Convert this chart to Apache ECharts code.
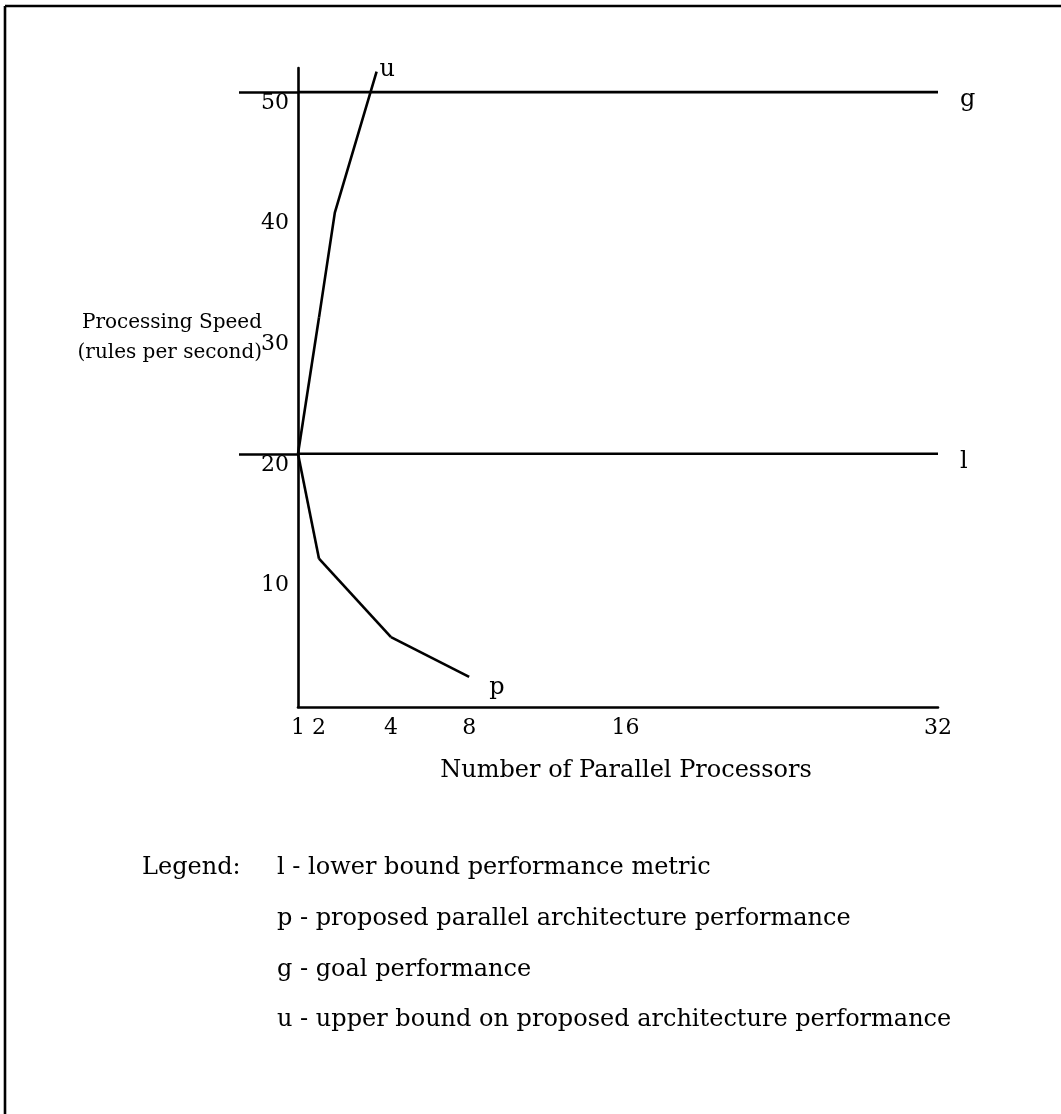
<!DOCTYPE html>
<html><head><meta charset="utf-8">
<script src="https://cdn.jsdelivr.net/npm/echarts@6/dist/echarts.min.js"></script>
<style>html,body{margin:0;padding:0;background:#fff}#c{width:1061px;height:1114px}</style>
</head><body><div id="c"></div>
<script>
// ---------------- data ----------------
const processors = [1, 2, 4, 8, 16, 32];            // x tick values: number of parallel processors
const speedTicks = [10, 20, 30, 40, 50];            // y tick labels: rules per second
const lowerBound = 20;                              // l - lower bound performance metric
const goal = 50;                                    // g - goal performance
const pProcessors = [1, 2, 4, 8];                   // p - proposed parallel architecture performance
const pSpeed = [20, 11.3, 4.8, 1.5];
const uProcessors = [1, 2, 2.44, 3.6];              // u - upper bound on proposed architecture performance
const uSpeed = [20, 31.3, 40, 51.7];
const legendTitle = 'Legend:';
const legendLines = [
  'l - lower bound performance metric',
  'p - proposed parallel architecture performance',
  'g - goal performance',
  'u - upper bound on proposed architecture performance'
];
const yTitle = ['Processing Speed', '(rules per second)'];
const xTitle = 'Number of Parallel Processors';

// ---------------- layout / style ----------------
const SERIF = '"DejaVu Serif", serif';
const INK = '#000';
const LW = 2.6;
const plot = { left: 298, top: 68, right: 938, bottom: 707 };
const yMin = -1, yMax = 52;
// the hand-drawn x axis is piecewise linear: break values and their pixel positions
const xBreaks = [1, 2, 4, 32];
const xBreakPx = [298, 319, 391, 938];

const grids = [{ left: plot.left, top: plot.top, width: plot.right - plot.left, height: plot.bottom - plot.top }];
for (let i = 0; i < xBreaks.length - 1; i++) {
  grids.push({ left: xBreakPx[i], top: plot.top, width: xBreakPx[i + 1] - xBreakPx[i], height: plot.bottom - plot.top });
}

const labelFont = { color: INK, fontFamily: SERIF, fontSize: 22 };

const xAxes = [{
  gridIndex: 0, type: 'value', min: xBreaks[0], max: xBreaks[xBreaks.length - 1],
  axisLine: { show: true, onZero: false, lineStyle: { color: INK, width: LW } },
  axisTick: { show: false }, axisLabel: { show: false }, splitLine: { show: false }
}];
const yAxes = [{
  gridIndex: 0, type: 'value', min: yMin, max: yMax,
  axisLine: { show: true, onZero: false, lineStyle: { color: INK, width: LW } },
  axisTick: { show: true, customValues: [lowerBound, goal], length: 59, lineStyle: { color: INK, width: LW } },
  axisLabel: Object.assign({ customValues: speedTicks, verticalAlign: 'top', margin: 9, formatter: v => String(v) }, labelFont),
  splitLine: { show: false }
}];
for (let i = 0; i < xBreaks.length - 1; i++) {
  const lo = xBreaks[i], hi = xBreaks[i + 1];
  const vals = processors.filter(v => v <= hi && (v > lo || (i === 0 && v === lo)));
  xAxes.push({
    gridIndex: i + 1, type: 'value', min: lo, max: hi,
    axisLine: { show: false, onZero: false }, axisTick: { show: false }, splitLine: { show: false },
    axisLabel: Object.assign({ customValues: vals, margin: 10, formatter: v => String(v) }, labelFont)
  });
  yAxes.push({
    gridIndex: i + 1, type: 'value', min: yMin, max: yMax, show: false,
    axisLine: { show: false, onZero: false }, splitLine: { show: false }
  });
}

const lineBase = {
  type: 'line', symbol: 'none', silent: true, clip: false, animation: false,
  lineStyle: { color: INK, width: LW }
};
const series = [];
// horizontal reference lines spanning the whole processor range
[[goal, 'g'], [lowerBound, 'l']].forEach(([val, name]) => {
  series.push(Object.assign({}, lineBase, {
    name, xAxisIndex: 0, yAxisIndex: 0,
    data: [[processors[0], val], [processors[processors.length - 1], val]],
    endLabel: Object.assign({ show: true, formatter: name, distance: 22, offset: [0, 8] }, labelFont, { fontSize: 24 })
  }));
});
function addPiecewise(name, xs, ys, labelOpt) {
  const pieces = [];
  for (let i = 0; i < xBreaks.length - 1; i++) {
    const lo = xBreaks[i], hi = xBreaks[i + 1];
    const pts = [];
    xs.forEach((x, k) => { if (x >= lo && x <= hi) pts.push([x, ys[k]]); });
    if (pts.length >= 2) pieces.push({ i, pts });
  }
  pieces.forEach((pc, k) => {
    const s = Object.assign({}, lineBase, { name, xAxisIndex: pc.i + 1, yAxisIndex: pc.i + 1, data: pc.pts });
    if (k === pieces.length - 1) s.endLabel = Object.assign({ show: true, formatter: name }, labelFont, { fontSize: 24 }, labelOpt);
    series.push(s);
  });
}
addPiecewise('p', pProcessors, pSpeed, { distance: 20, offset: [0, 11] });
addPiecewise('u', uProcessors, uSpeed, { distance: 3, offset: [0, -2] });

const txt = (text, x, y, align, size) => ({
  type: 'text', x, y, silent: true,
  style: { text, fill: INK, font: (size || 24) + 'px ' + SERIF, textAlign: align || 'left', textVerticalAlign: 'middle' }
});
const graphic = [
  { type: 'line', shape: { x1: 5, y1: 6, x2: 1061, y2: 6 }, style: { stroke: INK, lineWidth: LW } },
  { type: 'line', shape: { x1: 5, y1: 6, x2: 5, y2: 1114 }, style: { stroke: INK, lineWidth: LW } },
  txt(yTitle[0], 262, 323, 'right', 20),
  txt(yTitle[1], 262, 353, 'right', 20),
  txt(xTitle, 626, 771, 'center'),
  txt(legendTitle, 142, 868, 'left')
];
legendLines.forEach((t, k) => graphic.push(txt(t, 277, 868 + k * 50.7, 'left')));

const chart = echarts.init(document.getElementById('c'), null, { renderer: 'canvas' });
chart.setOption({
  backgroundColor: '#fff',
  animation: false,
  grid: grids, xAxis: xAxes, yAxis: yAxes, series, graphic
});
</script></body></html>
